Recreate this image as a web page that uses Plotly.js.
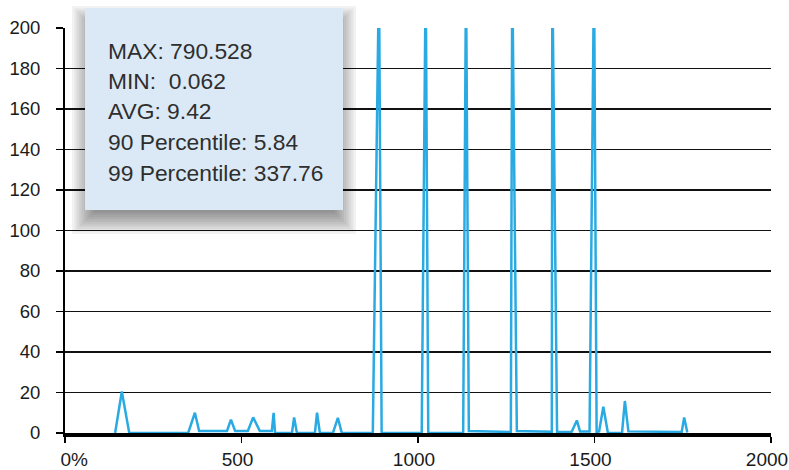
<!DOCTYPE html>
<html><head><meta charset="utf-8">
<script src="https://cdn.plot.ly/plotly-3.0.1.min.js"></script>
<style>html,body{margin:0;padding:0;background:#fff;} #chart{width:789px;height:470px;}</style>
</head><body><div id="chart"></div>
<script>
// ---- data ----
const xValues = [142, 161, 182, 349, 368, 380, 459, 470, 482, 518, 533, 552, 586, 591, 595, 643, 649, 657,
  708, 714, 722, 759, 773, 784, 872, 889.5, 897, 1010.5, 1021.8, 1029, 1128, 1136, 1144, 1263, 1267, 1280,
  1379, 1380.5, 1394, 1435, 1450, 1459, 1486, 1498.6, 1506, 1513, 1525, 1538, 1578, 1586, 1596, 1747, 1754, 1763];
const yValues = [0.06, 20.5, 0.06, 0.06, 10, 1, 1, 6.6, 1, 1, 7.7, 1, 1, 10, 0.06, 0.06, 7.7, 0.06,
  0.06, 10, 0.06, 0.06, 7.5, 0.06, 0.06, 228, 0.06, 0.06, 228, 0.06, 0.06, 228, 1, 0.5, 228, 1,
  0.6, 228, 0.5, 0.5, 6.2, 0.8, 0.8, 228, 0.5, 0.8, 13, 0.06, 0.06, 15.8, 0.8, 0.5, 7.7, 0.3];
const xTickValues = [0, 500, 1000, 1500, 2000];
const xTickLabels = ['\u00a0\u00a0\u00a0\u00a0\u00a00%', '500', '1000', '1500', '2000'];
const yTickValues = [0, 20, 40, 60, 80, 100, 120, 140, 160, 180, 200];
const statLines = ['MAX: 790.528', 'MIN:  0.062', 'AVG: 9.42', '90 Percentile: 5.84', '99 Percentile: 337.76'];

// ---- layout geometry (pixels) ----
const W = 789, H = 470;
const M = {l: 65, r: 18, t: 28, b: 37};
const PW = W - M.l - M.r, PH = H - M.t - M.b;
const px = x => (x - M.l) / PW;
const py = y => (H - M.b - y) / PH;

const box = {x0: 85, x1: 343, y0: 8, y1: 210};
const shapes = [];
// soft drop shadow made of stacked translucent rectangles
for (let i = 0; i < 10; i++) {
  const e = 13 - 2.4 * i;
  shapes.push({type: 'rect', xref: 'paper', yref: 'paper', layer: 'above',
    x0: px(box.x0 - e), x1: px(box.x1 + e), y0: py(box.y1 + 11 + e), y1: py(box.y0 + 11 - e),
    fillcolor: 'rgba(0,0,0,0.05)', line: {width: 0}});
}
shapes.push({type: 'rect', xref: 'paper', yref: 'paper', layer: 'above',
  x0: px(box.x0), x1: px(box.x1), y0: py(box.y1), y1: py(box.y0),
  fillcolor: '#dbe9f6', line: {width: 0}});

const lineY = [50.5, 80.8, 111.3, 142, 172.8];
const annotations = statLines.map((t, i) => ({
  xref: 'paper', yref: 'paper', x: px(106), y: py(lineY[i]), xanchor: 'left', yanchor: 'middle',
  text: t, showarrow: false, font: {family: 'Liberation Sans, Arial, sans-serif', size: 22.8, color: '#2e2e2e'}
}));

const trace = {
  x: xValues, y: yValues, type: 'scatter', mode: 'lines',
  line: {color: '#2aaae2', width: 2.5}, hoverinfo: 'skip'
};

const layout = {
  width: W, height: H, margin: M, showlegend: false,
  paper_bgcolor: '#fff', plot_bgcolor: '#fff',
  font: {family: 'Liberation Sans, Arial, sans-serif', size: 18.5, color: '#1a1a1a'},
  xaxis: {range: [0, 2000], tickmode: 'array', tickvals: xTickValues, ticktext: xTickLabels,
    showgrid: false, zeroline: false, showline: true, linecolor: '#000', linewidth: 3.5,
    ticks: 'outside', ticklen: 6, tickwidth: 1.5, tickcolor: '#000', layer: 'above traces',
    ticklabelstandoff: 1, ticklabelshift: -4, ticklabeloverflow: 'allow', tickfont: {size: 19}},
  yaxis: {range: [0, 200], tickmode: 'array', tickvals: yTickValues,
    showgrid: true, gridcolor: '#111', gridwidth: 1.7, zeroline: false,
    showline: true, linecolor: '#000', linewidth: 2,
    ticks: 'outside', ticklen: 7, tickwidth: 1.7, tickcolor: '#000', ticklabelstandoff: 12},
  shapes: shapes, annotations: annotations
};

Plotly.newPlot('chart', [trace], layout, {displayModeBar: false, staticPlot: true});
</script>
</body></html>
